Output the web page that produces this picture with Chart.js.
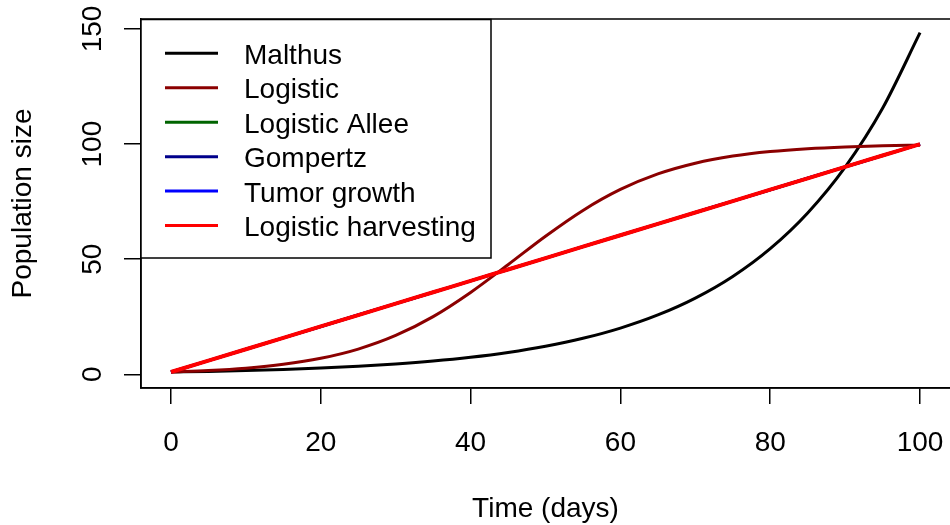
<!DOCTYPE html>
<html>
<head>
<meta charset="utf-8">
<script src="https://cdn.jsdelivr.net/npm/chart.js@4.4.1/dist/chart.umd.min.js"></script>
<style>
  html, body { margin: 0; padding: 0; background: #fff; overflow: hidden; }
  canvas { display: block; }
</style>
</head>
<body>
<canvas id="c" width="950" height="525"></canvas>
<script>
// ---- data ----
const days = [0, 5, 10, 15, 20, 25, 30, 35, 40, 45, 50, 55, 60, 65, 70, 75, 80, 85, 90, 95, 100];
const malthus = [1, 1.28, 1.65, 2.12, 2.72, 3.49, 4.48, 5.75, 7.39, 9.49, 12.18, 15.64, 20.09, 25.79, 33.12, 42.52, 54.6, 70.11, 90.02, 115.58, 148.41];
const logistic = [1, 1.64, 2.67, 4.33, 6.95, 10.96, 16.87, 25.06, 35.55, 47.62, 59.99, 71.2, 80.3, 87.05, 91.7, 94.8, 96.79, 98.03, 98.79, 99.26, 99.55];
const logisticAllee = [1, 5.95, 10.9, 15.85, 20.8, 25.75, 30.7, 35.65, 40.6, 45.55, 50.5, 55.45, 60.4, 65.35, 70.3, 75.25, 80.2, 85.15, 90.1, 95.05, 100];
const gompertz = [1, 5.95, 10.9, 15.85, 20.8, 25.75, 30.7, 35.65, 40.6, 45.55, 50.5, 55.45, 60.4, 65.35, 70.3, 75.25, 80.2, 85.15, 90.1, 95.05, 100];
const tumorGrowth = [1, 5.95, 10.9, 15.85, 20.8, 25.75, 30.7, 35.65, 40.6, 45.55, 50.5, 55.45, 60.4, 65.35, 70.3, 75.25, 80.2, 85.15, 90.1, 95.05, 100];
const logisticHarvesting = [1, 5.95, 10.9, 15.85, 20.8, 25.75, 30.7, 35.65, 40.6, 45.55, 50.5, 55.45, 60.4, 65.35, 70.3, 75.25, 80.2, 85.15, 90.1, 95.05, 100];
const seriesNames = ["Malthus", "Logistic", "Logistic Allee", "Gompertz", "Tumor growth", "Logistic harvesting"];
const xTicks = [0, 20, 40, 60, 80, 100];
const yTicks = [0, 50, 100, 150];
const xTitle = "Time (days)";
const yTitle = "Population size";

const FONT = '28px "Liberation Sans", Arial, Helvetica, sans-serif';
const seriesValues = [malthus, logistic, logisticAllee, gompertz, tumorGrowth, logisticHarvesting];
const colors = ["#000000", "#8B0000", "#006400", "#00008B", "#0000FF", "#FF0000"];
const widths = [3, 3, 3, 3, 3, 4];

const datasets = seriesNames.map((name, i) => ({
  label: name,
  data: days.map((d, j) => ({ x: d, y: seriesValues[i][j] })),
  borderColor: colors[i],
  backgroundColor: colors[i],
  borderWidth: widths[i],
  pointRadius: 0,
  fill: false,
  cubicInterpolationMode: 'monotone',
  order: seriesNames.length - i
}));

const decor = {
  id: 'decor',
  afterDraw(chart) {
    const ctx = chart.ctx;
    const a = chart.chartArea;
    const xs = chart.scales.x, ys = chart.scales.y;
    ctx.save();
    // box
    ctx.strokeStyle = '#000';
    ctx.lineWidth = 1.5;
    ctx.strokeRect(a.left, a.top, a.right - a.left + 20, a.bottom - a.top);
    ctx.fillStyle = '#000';
    ctx.font = FONT;
    // x tick labels
    ctx.textAlign = 'center';
    ctx.textBaseline = 'alphabetic';
    xTicks.forEach(v => ctx.fillText(String(v), xs.getPixelForValue(v), 451));
    // x title
    ctx.fillText(xTitle, (a.left + a.right) / 2, 517);
    // y tick labels (rotated)
    yTicks.forEach(v => {
      ctx.save();
      ctx.translate(100.5, ys.getPixelForValue(v));
      ctx.rotate(-Math.PI / 2);
      ctx.textAlign = 'center';
      ctx.fillText(String(v), 0, 0);
      ctx.restore();
    });
    // y title
    ctx.save();
    ctx.translate(31, (a.top + a.bottom) / 2);
    ctx.rotate(-Math.PI / 2);
    ctx.textAlign = 'center';
    ctx.fillText(yTitle, 0, 0);
    ctx.restore();
    // legend
    const L = 141, T = 19.5, R = 491, B = 258;
    ctx.fillStyle = '#fff';
    ctx.fillRect(L, T, R - L, B - T);
    ctx.strokeStyle = '#000';
    ctx.lineWidth = 1.5;
    ctx.strokeRect(L, T, R - L, B - T);
    chart.data.datasets.forEach((ds, i) => {
      const yc = 53.3 + 34.45 * i;
      ctx.strokeStyle = ds.borderColor;
      ctx.lineWidth = 3;
      ctx.beginPath();
      ctx.moveTo(165, yc);
      ctx.lineTo(218, yc);
      ctx.stroke();
      ctx.fillStyle = '#000';
      ctx.textAlign = 'left';
      ctx.textBaseline = 'alphabetic';
      ctx.fillText(ds.label, 244, yc + 10.5);
    });
    ctx.restore();
  }
};

new Chart(document.getElementById('c'), {
  type: 'line',
  data: { datasets },
  options: {
    responsive: false,
    animation: false,
    devicePixelRatio: 1,
    layout: { padding: { top: 19, right: 0, bottom: 0, left: 0 } },
    plugins: { legend: { display: false }, tooltip: { enabled: false } },
    scales: {
      x: {
        type: 'linear',
        min: -4,
        max: 104,
        afterBuildTicks: s => { s.ticks = xTicks.map(v => ({ value: v })); },
        afterFit: s => { s.height = 137; },
        ticks: { display: false },
        grid: { display: true, drawOnChartArea: false, drawTicks: true, tickLength: 16, color: '#000', lineWidth: 1.5 },
        border: { display: true, color: '#000', width: 1.5 }
      },
      y: {
        type: 'linear',
        min: -5.94,
        max: 154.35,
        afterBuildTicks: s => { s.ticks = yTicks.map(v => ({ value: v })); },
        afterFit: s => { s.width = 141; },
        ticks: { display: false },
        grid: { display: true, drawOnChartArea: false, drawTicks: true, tickLength: 17, color: '#000', lineWidth: 1.5 },
        border: { display: true, color: '#000', width: 1.5 }
      }
    }
  },
  plugins: [decor]
});
</script>
</body>
</html>
